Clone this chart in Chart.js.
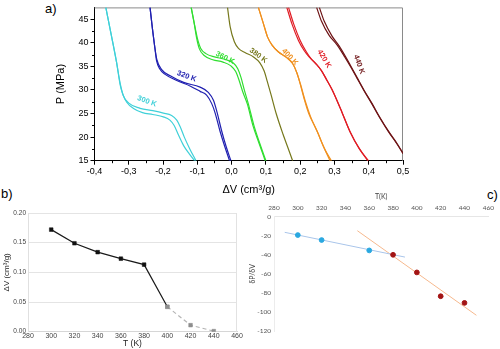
<!DOCTYPE html>
<html>
<head>
<meta charset="utf-8">
<script src="https://cdn.jsdelivr.net/npm/chart.js@4.4.1/dist/chart.umd.min.js"></script>
<style>
  html, body { margin: 0; padding: 0; background: #fff; }
  body { width: 500px; height: 349px; position: relative; overflow: hidden;
         font-family: "Liberation Sans", Arial, sans-serif; }
  .panel { position: absolute; }
  .tag { position: absolute; font-size: 13px; color: #000; line-height: 1; }
</style>
</head>
<body>
<div class="tag" style="left:45px;top:2px;">a)</div>
<div class="tag" style="left:1px;top:187px;">b)</div>
<div class="tag" style="left:487px;top:188px;">c)</div>

<canvas id="chartA" class="panel" width="420" height="200" style="left:0;top:0;width:420px;height:200px"></canvas>
<canvas id="chartB" class="panel" width="250" height="149" style="left:0;top:200px;width:250px;height:149px"></canvas>
<canvas id="chartC" class="panel" width="254" height="164" style="left:246px;top:185px;width:254px;height:164px"></canvas>

<script>
// ---------- a) pressure vs. volume change isotherms ([ΔV, P] pairs) ----------
const isoTemps = [300, 320, 360, 380, 400, 420, 440];
const isoColors = ['#3fd0d8', '#2020b0', '#30de30', '#76781c', '#f0901f', '#e01c24', '#6e1416'];

const iso300a = [[-0.367,47.5],[-0.352,42],[-0.336,36],[-0.324,31],[-0.316,28.8],[-0.300,27.2],[-0.267,26.1],[-0.230,25.6],[-0.199,25.1],[-0.175,24.6],[-0.160,23.6],[-0.150,22.2],[-0.138,20.0],[-0.122,17.5],[-0.104,15]];
const iso300b = [[-0.367,47.5],[-0.352,42],[-0.336,36],[-0.325,31],[-0.318,29.2],[-0.306,27.4],[-0.285,26.0],[-0.260,25.2],[-0.230,24.8],[-0.199,24.3],[-0.180,23.6],[-0.168,22.5],[-0.156,20.6],[-0.140,18.2],[-0.124,16.5],[-0.108,15]];
const iso320a = [[-0.238,47.5],[-0.231,43],[-0.224,39],[-0.218,36.4],[-0.204,34.3],[-0.179,33.0],[-0.140,31.6],[-0.092,30.6],[-0.068,29.5],[-0.053,27.8],[-0.043,25.4],[-0.029,21.3],[-0.016,18],[-0.002,15]];
const iso320b = [[-0.238,47.5],[-0.231,43],[-0.224,39],[-0.219,36.2],[-0.209,34.4],[-0.194,33.3],[-0.160,32.0],[-0.120,30.8],[-0.092,29.7],[-0.073,28.9],[-0.058,27.1],[-0.048,25.1],[-0.034,21.3],[-0.020,18],[-0.006,15]];
const iso360a = [[-0.118,47.5],[-0.110,44.5],[-0.100,41],[-0.090,38.8],[-0.075,37.7],[-0.050,37.0],[-0.020,36.5],[0.005,35.7],[0.018,34.5],[0.028,32.5],[0.037,30],[0.049,27],[0.065,22.5],[0.082,18.7],[0.100,15]];
const iso360b = [[-0.118,47.5],[-0.110,44.5],[-0.102,41],[-0.094,38.7],[-0.080,37.3],[-0.055,36.4],[-0.025,35.9],[-0.002,35.1],[0.012,33.9],[0.022,32],[0.033,29.5],[0.046,27],[0.062,22.5],[0.080,18.7],[0.098,15]];
const iso380a = [[-0.012,47.5],[-0.004,43.3],[0.008,40.2],[0.020,38.8],[0.040,37.9],[0.064,37.0],[0.082,35.8],[0.095,34],[0.104,31.8],[0.115,29],[0.130,25],[0.150,20.6],[0.163,18],[0.178,15]];
const iso400a = [[0.078,47.5],[0.093,44.0],[0.105,41.2],[0.118,39.5],[0.136,38.1],[0.160,36.9],[0.178,35.6],[0.190,33.7],[0.200,31.3],[0.212,28],[0.225,25],[0.248,21.5],[0.268,18],[0.287,15]];
const iso400b = [[0.078,47.5],[0.093,44.0],[0.105,41.2],[0.118,39.5],[0.136,38.1],[0.160,36.9],[0.178,35.6],[0.190,33.7],[0.201,31.2],[0.215,27.6],[0.230,24.4],[0.252,20.8],[0.272,17.4],[0.291,15]];
const iso420a = [[0.161,47.5],[0.176,44.0],[0.195,40.5],[0.212,38.3],[0.226,37.0],[0.245,35.6],[0.262,34.1],[0.276,32.3],[0.292,30.2],[0.310,27.3],[0.321,25.4],[0.345,21.2],[0.372,17.6],[0.397,15]];
const iso420b = [[0.166,47.5],[0.181,44.0],[0.200,40.5],[0.217,38.2],[0.231,36.7],[0.248,35.4],[0.263,34.0],[0.277,32.2],[0.293,30.1],[0.311,27.2],[0.322,25.3],[0.346,21.1],[0.373,17.5],[0.399,15]];
const iso440a = [[0.248,47.5],[0.262,44.6],[0.285,41.5],[0.307,39.6],[0.330,37.0],[0.348,34.8],[0.365,32.6],[0.385,30.0],[0.408,27.2],[0.433,24.0],[0.458,21.1],[0.482,18.6],[0.500,16.5]];
const iso440b = [[0.256,47.5],[0.270,44.6],[0.293,41.4],[0.314,39.3],[0.336,36.6],[0.352,34.5],[0.367,32.5],[0.386,30.0],[0.409,27.2],[0.434,24.0],[0.459,21.1],[0.483,18.6],[0.500,16.6]];

const isoCurves = [
  [iso300a, iso300b], [iso320a, iso320b], [iso360a, iso360b],
  [iso380a], [iso400a, iso400b], [iso420a, iso420b], [iso440a, iso440b]
];

// where each temperature tag sits on the plot (data units) and its slant
const isoTagSpots = [
  { dv: -0.247, p: 27.6, angle: 20 },
  { dv: -0.131, p: 32.9, angle: 20 },
  { dv: -0.019, p: 36.8, angle: 26 },
  { dv:  0.078, p: 37.3, angle: 36 },
  { dv:  0.170, p: 37.0, angle: 46 },
  { dv:  0.270, p: 36.6, angle: 60 },
  { dv:  0.372, p: 35.4, angle: 70 }
];

// ---------- b) volume step vs. temperature ----------
const tempsB = [300, 320, 340, 360, 380, 400, 420, 440];
const dvB    = [0.172, 0.149, 0.134, 0.123, 0.113, 0.042, 0.011, 0.001];

// ---------- c) slope of the isotherms vs. temperature ----------
const tempsLow  = [300, 320, 360];
const slopeLow  = [-19.3, -24.5, -35.4];
const tempsHigh = [380, 400, 420, 440];
const slopeHigh = [-40.0, -58.5, -83.5, -90.5];
const trendLowT  = [289, 390];
const trendLowV  = [-16.4, -42.4];
const trendHighT = [350, 450];
const trendHighV = [-14.7, -103.5];

const toXY = (xs, ys) => xs.map((x, i) => ({ x, y: ys[i] }));
const pairsToXY = arr => arr.map(([x, y]) => ({ x, y }));
const fontA = '"Liberation Sans", Arial, sans-serif';

// ===== chart a =====
const isoDatasets = [];
isoCurves.forEach((branches, k) => {
  branches.forEach(br => {
    isoDatasets.push({
      data: pairsToXY(br),
      showLine: true,
      borderColor: isoColors[k],
      borderWidth: 1.2,
      pointRadius: 0,
      cubicInterpolationMode: 'monotone',
      fill: false
    });
  });
});

const frameAndMinorTicks = {
  id: 'frameAndMinorTicks',
  beforeDatasetsDraw(chart) {
    const { ctx, chartArea: a, scales: { x, y } } = chart;
    ctx.save();
    // light frame on the top and right sides
    ctx.strokeStyle = '#8a8a8a';
    ctx.lineWidth = 1;
    ctx.beginPath();
    ctx.moveTo(a.left, a.top + 0.5);
    ctx.lineTo(a.right - 0.5, a.top + 0.5);
    ctx.lineTo(a.right - 0.5, a.bottom);
    ctx.stroke();
    // minor ticks
    ctx.strokeStyle = '#000';
    ctx.beginPath();
    for (let v = -0.35; v < 0.5; v += 0.1) {
      const px = Math.round(x.getPixelForValue(v)) + 0.5;
      ctx.moveTo(px, a.bottom);
      ctx.lineTo(px, a.bottom + 2.5);
    }
    for (let v = 17.5; v < 47; v += 5) {
      const py = Math.round(y.getPixelForValue(v)) + 0.5;
      ctx.moveTo(a.left, py);
      ctx.lineTo(a.left - 2.5, py);
    }
    ctx.stroke();
    ctx.restore();
  }
};

const isoTagPlugin = {
  id: 'isoTags',
  afterDatasetsDraw(chart) {
    const { ctx, scales: { x, y } } = chart;
    isoTemps.forEach((t, i) => {
      const s = isoTagSpots[i];
      ctx.save();
      ctx.translate(x.getPixelForValue(s.dv), y.getPixelForValue(s.p));
      ctx.rotate(s.angle * Math.PI / 180);
      ctx.font = 'bold 7.5px ' + fontA;
      ctx.fillStyle = isoColors[i];
      ctx.textAlign = 'center';
      ctx.textBaseline = 'middle';
      ctx.fillText(t + ' K', 0, 0);
      ctx.restore();
    });
  }
};

const commaDec = v => (Math.abs(v) < 1e-9 ? 0 : v).toFixed(1).replace('.', ',');

new Chart(document.getElementById('chartA'), {
  type: 'scatter',
  data: { datasets: isoDatasets },
  options: {
    responsive: false,
    animation: false,
    events: [],
    layout: { padding: { left: 54, top: 3, right: 17, bottom: 3 } },
    plugins: { legend: { display: false }, tooltip: { enabled: false } },
    scales: {
      x: {
        type: 'linear', min: -0.4, max: 0.5,
        ticks: { stepSize: 0.1, color: '#000', font: { family: fontA, size: 9 }, padding: 1, callback: commaDec, maxRotation: 0 },
        grid: { drawOnChartArea: false, drawTicks: true, tickLength: 4, tickColor: '#000' },
        border: { color: '#000', width: 1 },
        title: { display: true, text: 'ΔV (cm³/g)', color: '#000', font: { family: fontA, size: 11 }, padding: { top: 0, bottom: 0 } },
        afterFit(s) { s.height = 36.3; }
      },
      y: {
        type: 'linear', min: 15, max: 47.5,
        afterBuildTicks(s) { s.ticks = s.ticks.filter(t => Math.abs(t.value % 5) < 1e-9); },
        ticks: { stepSize: 5, color: '#000', font: { family: fontA, size: 9 }, padding: 2 },
        grid: { drawOnChartArea: false, drawTicks: true, tickLength: 4, tickColor: '#000' },
        border: { color: '#000', width: 1 },
        title: { display: true, text: 'P (MPa)', color: '#000', font: { family: fontA, size: 11 }, padding: { top: 0, bottom: 0 } },
        afterFit(s) { s.width = 40.5; }
      }
    }
  },
  plugins: [frameAndMinorTicks, isoTagPlugin]
});

// ===== chart b =====
const splitB = 5; // last point of the solid run
const rightEdgeB = {
  id: 'rightEdgeB',
  beforeDatasetsDraw(chart) {
    const { ctx, chartArea: a } = chart;
    ctx.save();
    ctx.strokeStyle = '#e2e2e2';
    ctx.lineWidth = 1;
    ctx.beginPath();
    ctx.moveTo(a.right - 0.5, a.top);
    ctx.lineTo(a.right - 0.5, a.bottom);
    ctx.stroke();
    ctx.restore();
  }
};

new Chart(document.getElementById('chartB'), {
  type: 'scatter',
  data: {
    datasets: [
      {
        data: toXY(tempsB.slice(0, splitB + 1), dvB.slice(0, splitB + 1)),
        showLine: true,
        borderColor: '#1a1a1a',
        borderWidth: 1.2,
        pointStyle: 'rect',
        pointRadius: 2.6,
        pointBackgroundColor: tempsB.slice(0, splitB + 1).map((_, i) => i < splitB ? '#111' : '#8e8e8e'),
        pointBorderColor: tempsB.slice(0, splitB + 1).map((_, i) => i < splitB ? '#111' : '#8e8e8e'),
        pointBorderWidth: 0.5,
        order: 1
      },
      {
        data: toXY(tempsB.slice(splitB), dvB.slice(splitB)),
        showLine: true,
        borderColor: '#b4b4b4',
        borderWidth: 1.2,
        borderDash: [4, 3],
        pointStyle: 'rect',
        pointRadius: 2.6,
        pointBackgroundColor: '#8e8e8e',
        pointBorderColor: '#8e8e8e',
        pointBorderWidth: 0.5,
        order: 2
      }
    ]
  },
  options: {
    responsive: false,
    animation: false,
    events: [],
    layout: { padding: { left: 2, top: 13, right: 13, bottom: 0 } },
    plugins: { legend: { display: false }, tooltip: { enabled: false } },
    scales: {
      x: {
        type: 'linear', min: 280, max: 460,
        ticks: { stepSize: 20, color: '#444', font: { family: fontA, size: 7 }, padding: 0, maxRotation: 0 },
        grid: { display: false, drawTicks: false },
        border: { color: '#d6d6d6', width: 1 },
        title: { display: true, text: 'T (K)', color: '#222', font: { family: fontA, size: 8.5 }, padding: { top: 0, bottom: 0 } },
        afterFit(s) { s.height = 17.3; }
      },
      y: {
        type: 'linear', min: 0, max: 0.2,
        ticks: { stepSize: 0.05, color: '#444', font: { family: fontA, size: 6.5 }, padding: 2, callback: v => v.toFixed(2) },
        grid: { color: '#e4e4e4', drawTicks: false },
        border: { color: '#e0e0e0', width: 1 },
        title: { display: true, text: 'ΔV (cm³/g)', color: '#222', font: { family: fontA, size: 8 }, padding: { top: 0, bottom: 0 } },
        afterFit(s) { s.width = 26; }
      }
    }
  },
  plugins: [rightEdgeB]
});

// ===== chart c =====
const fontC = 'Lato, "Open Sans", sans-serif';
new Chart(document.getElementById('chartC'), {
  type: 'scatter',
  data: {
    datasets: [
      { data: toXY(trendLowT, trendLowV), showLine: true, borderColor: '#a9c5ea', borderWidth: 1, pointRadius: 0, order: 3 },
      { data: toXY(trendHighT, trendHighV), showLine: true, borderColor: '#f6b98e', borderWidth: 1, pointRadius: 0, order: 3 },
      { data: toXY(tempsLow, slopeLow), pointRadius: 2.4, pointBackgroundColor: '#2aa8e0', pointBorderColor: '#2aa8e0', order: 1 },
      { data: toXY(tempsHigh, slopeHigh), pointRadius: 2.4, pointBackgroundColor: '#a31414', pointBorderColor: '#a31414', order: 1 }
    ]
  },
  options: {
    responsive: false,
    animation: false,
    events: [],
    layout: { padding: { left: 3, top: 7.5, right: 11.7, bottom: 18 } },
    plugins: { legend: { display: false }, tooltip: { enabled: false } },
    scales: {
      x: {
        type: 'linear', position: 'top', min: 280, max: 460,
        ticks: { stepSize: 20, color: '#555', font: { family: fontC, size: 6.5 }, padding: 5, maxRotation: 0 },
        grid: { display: false, drawTicks: false },
        border: { color: '#e6e6e6', width: 1 },
        title: { display: true, text: 'T(K)', color: '#444', font: { family: fontC, size: 7 }, padding: { top: 0, bottom: 0 } },
        afterFit(s) { s.height = 24.2; }
      },
      y: {
        type: 'linear', min: -120, max: 0,
        ticks: { stepSize: 20, color: '#555', font: { family: fontC, size: 6.5 }, padding: 3 },
        grid: { display: false, drawTicks: false },
        border: { color: '#ececec', width: 1 },
        title: { display: true, text: 'δP/δV', color: '#444', font: { family: fontC, size: 7 }, padding: { top: 0, bottom: 0 } },
        afterFit(s) { s.width = 25; }
      }
    }
  }
});
</script>
</body>
</html>
